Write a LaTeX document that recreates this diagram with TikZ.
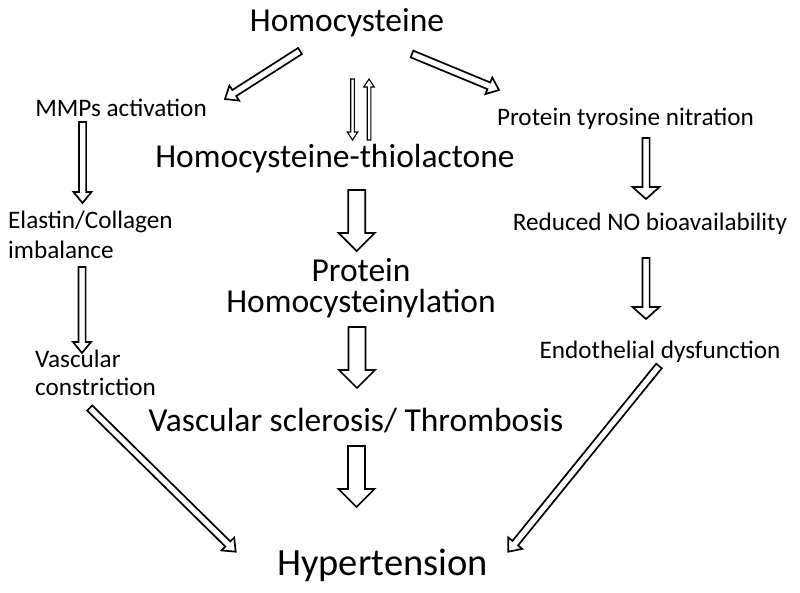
\documentclass[tikz,border=0pt]{standalone}
\usepackage{fontspec}
\setmainfont{Carlito}
\usepackage{tikz}
\usetikzlibrary{calc}
\tikzset{%
  arrshaft/.store in=\arrshaft, arrhead/.store in=\arrhead, arrhlen/.store in=\arrhlen,
  arrshaft=3.6pt, arrhead=9pt, arrhlen=11pt,
  blk/.style={draw=black,fill=white,line width=1.7pt,
    to path={let \p1=(\tikztostart), \p2=(\tikztotarget), \p3=($(\p2)-(\p1)$),
      \n1={atan2(\y3,\x3)}, \n2={veclen(\x3,\y3)} in
      (\p1) ++({\n1+90}:\arrshaft) -- ++(\n1:{\n2-\arrhlen}) -- ++({\n1+90}:{\arrhead-\arrshaft}) -- (\p2)
      -- ($(\p2)+({\n1+180}:\arrhlen)+({\n1-90}:\arrhead)$) -- ++({\n1+90}:{\arrhead-\arrshaft})
      -- ++({\n1+180}:{\n2-\arrhlen}) -- cycle}},
  hairarr/.style={blk,line width=1.1pt,arrshaft=1.8pt,arrhead=5.2pt,arrhlen=8pt},
  thinarr/.style={blk},
  widearr/.style={blk,arrhead=13.5pt,arrhlen=12pt},
  bigarr/.style={blk,arrshaft=8.5pt,arrhead=18pt,arrhlen=18pt},
  slbl/.style={font=\fontsize{25.2}{30}\selectfont,inner sep=0pt,anchor=base},
  mlbl/.style={font=\fontsize{33.5}{31}\selectfont,inner sep=0pt,anchor=base},
  blbl/.style={font=\fontsize{38.5}{46}\selectfont,inner sep=0pt,anchor=base}
}

\begin{document}
\begin{tikzpicture}[x=1pt,y=-1pt]
  \path[use as bounding box,fill=white] (0,0) rectangle (800,592);
  % labels
  \node[mlbl] (hcy) at (347,31.7) {Homocysteine};
  \node[mlbl] (thio) at (335,167) {Homocysteine-thiolactone};
  \node[mlbl,align=center] (prot) at (361,312) {Protein\\Homocysteinylation};
  \node[mlbl] (scl) at (356,431) {Vascular sclerosis/ Thrombosis};
  \node[blbl] (hyp) at (382.5,575) {Hypertension};
  \node[slbl] (mmp) at (121,116.7) {MMPs activation};
  \node[slbl,align=left,anchor=base west] (ecol) at (8,258) {Elastin/Collagen\\imbalance};
  \node[slbl,font=\fontsize{25.2}{28}\selectfont,align=left,anchor=base west] (vcon) at (35,395) {Vascular\\constriction};
  \node[slbl] (ptn) at (625.5,125.7) {Protein tyrosine nitration};
  \node[slbl] (rno) at (650,230) {Reduced NO bioavailability};
  \node[slbl] (endo) at (660,358) {Endothelial dysfunction};
  % arrows
  \draw[thinarr] ([shift={(-47,19.3)}]hcy.base) to ([shift={(104,-17.7)}]mmp.base);
  \draw[thinarr] ([shift={(65,22.3)}]hcy.base) to ([shift={(-126.5,-35.7)}]ptn.base);
  \draw[hairarr] ([shift={(5.5,47.3)}]hcy.base) to ([shift={(17.5,-27)}]thio.base);
  \draw[hairarr] ([shift={(34,-27)}]thio.base) to ([shift={(22,47.3)}]hcy.base);
  \draw[bigarr] ([shift={(21.7,23)}]thio.base) to ([shift={(-4.3,-61)}]prot.base);
  \draw[bigarr] ([shift={(-4,15)}]prot.base) to ([shift={(1,-43)}]scl.base);
  \draw[bigarr] ([shift={(0.5,15)}]scl.base) to ([shift={(-26,-68)}]hyp.base);
  \draw[thinarr] ([shift={(-38.5,5.3)}]mmp.base) to ([shift={(74.5,-55)}]ecol.base west);
  \draw[thinarr] ([shift={(74,9)}]ecol.base west) to ([shift={(47,-42)}]vcon.base west);
  \draw[widearr] ([shift={(20.5,12.3)}]ptn.base) to ([shift={(-4,-31)}]rno.base);
  \draw[widearr] ([shift={(-4,28)}]rno.base) to ([shift={(-14,-39)}]endo.base);
  \draw[thinarr] ([shift={(54.7,13)}]vcon.base west) to ([shift={(-146.8,-23.3)}]hyp.base);
  \draw[thinarr] ([shift={(-1,8)}]endo.base) to ([shift={(125.8,-23.3)}]hyp.base);
\end{tikzpicture}
\end{document}
